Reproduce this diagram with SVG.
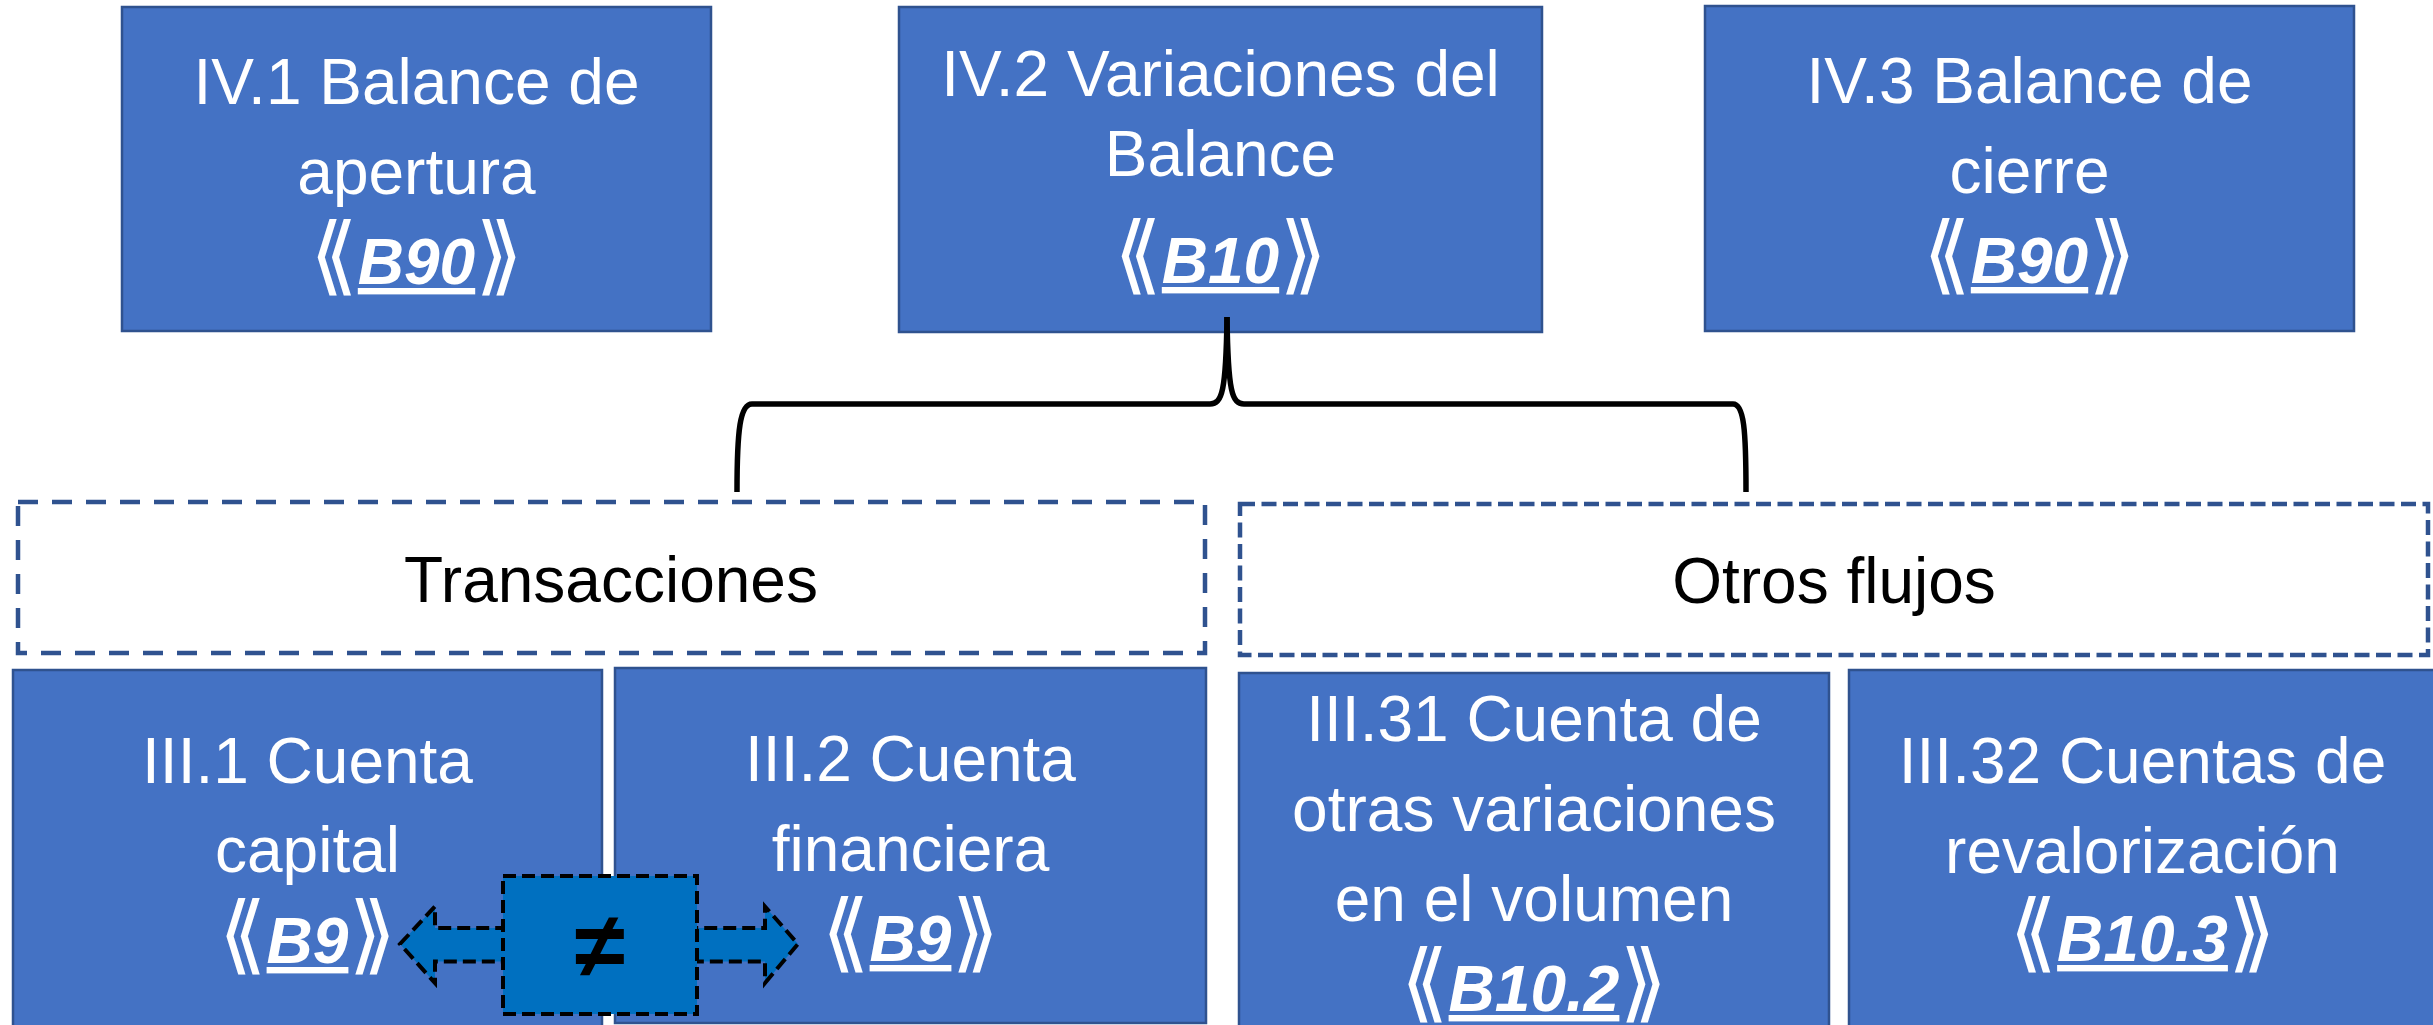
<svg xmlns="http://www.w3.org/2000/svg" width="2433" height="1025" viewBox="0 0 2433 1025">
  <style>
    .box { fill: #4472C4; stroke: #2F528F; stroke-width: 2.5; }
    .t { font-family: "Liberation Sans", Arial, sans-serif; font-size: 64px; fill: #FFFFFF; text-anchor: middle; }
    .lbl { font-family: "Liberation Sans", Arial, sans-serif; font-size: 64px; fill: #000000; text-anchor: middle; }
    .br { font-family: "DejaVu Sans", sans-serif; font-size: 86px; }
    .code { font-weight: bold; font-style: italic; text-decoration: underline; }
    .dashA { fill: #FFFFFF; stroke: #2F528F; stroke-width: 4.5; stroke-dasharray: 20 14; }
    .dashB { fill: #FFFFFF; stroke: #2F528F; stroke-width: 4.5; stroke-dasharray: 15 6.5; }
    .neq { fill: #0070C0; stroke: #000000; stroke-width: 4; stroke-dasharray: 13 6; }
    .brace { fill: none; stroke: #000000; stroke-width: 5.5; stroke-linejoin: round; }
  </style>

  <g id="iv1">
    <rect class="box" x="122" y="7" width="589" height="324"/>
    <text class="t" x="416.5" y="104">IV.1 Balance de</text>
    <text class="t" x="416.5" y="194">apertura</text>
    <text class="t" x="416.5" y="284"><tspan class="br">⟪</tspan><tspan class="code">B90</tspan><tspan class="br">⟫</tspan></text>
  </g>

  <g id="iv2">
    <rect class="box" x="899" y="7" width="643" height="325"/>
    <text class="t" x="1220.5" y="96">IV.2 Variaciones del</text>
    <text class="t" x="1220.5" y="176">Balance</text>
    <text class="t" x="1220.5" y="283"><tspan class="br">⟪</tspan><tspan class="code">B10</tspan><tspan class="br">⟫</tspan></text>
  </g>

  <g id="iv3">
    <rect class="box" x="1705" y="6" width="649" height="325"/>
    <text class="t" x="2029.5" y="103">IV.3 Balance de</text>
    <text class="t" x="2029.5" y="193">cierre</text>
    <text class="t" x="2029.5" y="283"><tspan class="br">⟪</tspan><tspan class="code">B90</tspan><tspan class="br">⟫</tspan></text>
  </g>

  <g id="connectors">
    <path class="brace" d="M 737 492 C 737 430 740 404 752 404 L 1210 404 C 1222 404 1226 392 1227 317"/>
    <path class="brace" d="M 1227 317 C 1228 392 1232 404 1244 404 L 1733 404 C 1744 404 1746 430 1746 492"/>
  </g>

  <g id="transacciones">
    <rect class="dashA" x="18" y="502" width="1187" height="151"/>
    <text class="lbl" x="611" y="602">Transacciones</text>
  </g>

  <g id="otros">
    <rect class="dashB" x="1240" y="504" width="1188" height="151"/>
    <text class="lbl" x="1834" y="603">Otros flujos</text>
  </g>

  <g id="iii1">
    <rect class="box" x="13" y="670" width="589" height="380"/>
    <text class="t" x="307.5" y="783">III.1 Cuenta</text>
    <text class="t" x="307.5" y="872">capital</text>
    <text class="t" x="307.5" y="963"><tspan class="br">⟪</tspan><tspan class="code">B9</tspan><tspan class="br">⟫</tspan></text>
  </g>

  <g id="iii2">
    <rect class="box" x="615" y="668" width="591" height="355"/>
    <text class="t" x="910.5" y="781">III.2 Cuenta</text>
    <text class="t" x="910.5" y="871">financiera</text>
    <text class="t" x="910.5" y="961"><tspan class="br">⟪</tspan><tspan class="code">B9</tspan><tspan class="br">⟫</tspan></text>
  </g>

  <g id="iii31">
    <rect class="box" x="1239" y="673" width="590" height="380"/>
    <text class="t" x="1534" y="741">III.31 Cuenta de</text>
    <text class="t" x="1534" y="831">otras variaciones</text>
    <text class="t" x="1534" y="921">en el volumen</text>
    <text class="t" x="1534" y="1011"><tspan class="br">⟪</tspan><tspan class="code">B10.2</tspan><tspan class="br">⟫</tspan></text>
  </g>

  <g id="iii32">
    <rect class="box" x="1849" y="670" width="590" height="380"/>
    <text class="t" x="2142.5" y="783">III.32 Cuentas de</text>
    <text class="t" x="2142.5" y="873">revalorización</text>
    <text class="t" x="2142.5" y="961"><tspan class="br">⟪</tspan><tspan class="code">B10.3</tspan><tspan class="br">⟫</tspan></text>
  </g>

  <g id="neq">
    <path class="neq" d="M 400 944 L 435 906.5 L 435 928 L 765 928 L 765 906.5 L 798 944 L 765 983 L 765 961.5 L 435 961.5 L 435 983 Z"/>
    <rect class="neq" x="503" y="876" width="194" height="138"/>
    <text x="600" y="977" font-family="Liberation Sans, Arial, sans-serif" font-size="92" font-weight="bold" fill="#000000" text-anchor="middle">≠</text>
  </g>
</svg>
